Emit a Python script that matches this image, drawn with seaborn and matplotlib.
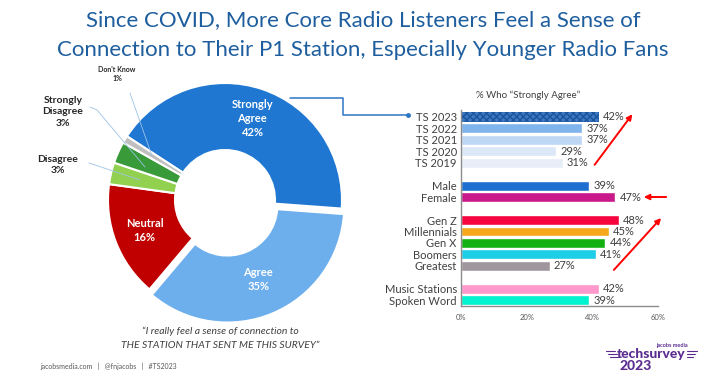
import numpy as np
import pandas as pd
import matplotlib
matplotlib.use("Agg")
import matplotlib.pyplot as plt
from matplotlib.lines import Line2D
import seaborn as sns

# donut data
pie_labels = ["Strongly Agree", "Agree", "Neutral", "Disagree", "Strongly Disagree", "Don't Know"]
pie_values = [42, 35, 16, 3, 3, 1]
pie_colors = ["#1F77D2", "#6DAEEC", "#C00000", "#92D050", "#399A3A", "#BFBFBF"]

# bar data (% who strongly agree)
trend_labels = ["TS 2023", "TS 2022", "TS 2021", "TS 2020", "TS 2019"]
trend_values = [42, 37, 37, 29, 31]
gender_labels = ["Male", "Female"]
gender_values = [39, 47]
gen_labels = ["Gen Z", "Millennials", "Gen X", "Boomers", "Greatest"]
gen_values = [48, 45, 44, 41, 27]
format_labels = ["Music Stations", "Spoken Word"]
format_values = [42, 39]

bar_colors = {
    "TS 2023": "#3C78C6", "TS 2022": "#80B4EC", "TS 2021": "#BDD7F5",
    "TS 2020": "#DCE8F8", "TS 2019": "#E8EEF8",
    "Male": "#1F6FD0", "Female": "#C8188A",
    "Gen Z": "#F7053F", "Millennials": "#F5A81C", "Gen X": "#12B012",
    "Boomers": "#1ECDE6", "Greatest": "#A0969E",
    "Music Stations": "#FF99CC", "Spoken Word": "#00F2CE",
}

sns.set_style("white")
plt.rcParams["font.family"] = ["Lato", "DejaVu Sans"]

W, H = 726, 376
fig = plt.figure(figsize=(W / 100, H / 100), dpi=100)


def fx(x):
    return x / W


def fy(y):
    return 1 - y / H


# ---- donut ----
ax_pie = fig.add_axes([fx(40), fy(330), 315 / W, 265 / H])
wedges, _ = ax_pie.pie(pie_values, colors=pie_colors, startangle=147, counterclock=False,
                       radius=1.17, explode=[0, 0.06, 0, 0, 0, 0],
                       wedgeprops=dict(width=0.67, edgecolor="white", linewidth=1.5))
ax_pie.set_xlim(-1.85, 1.3)
ax_pie.set_ylim(-1.3, 1.35)
ax_pie.set_aspect("equal")
ax_pie.axis("off")

inner_text = {"Strongly Agree": "Strongly\nAgree\n42%", "Agree": "Agree\n35%", "Neutral": "Neutral\n16%"}
for w, lab in zip(wedges, pie_labels):
    if lab in inner_text:
        ang = np.deg2rad((w.theta1 + w.theta2) / 2)
        ax_pie.text(0.86 * np.cos(ang), 0.86 * np.sin(ang), inner_text[lab], ha="center", va="center",
                    color="white", fontsize=8, fontweight="bold", linespacing=1.35)

lead = "#9DC3E6"
ax_pie.plot([-0.95, -0.73], [1.07, 0.44], color=lead, lw=0.6)
ax_pie.plot([-1.35, -1.28, -0.80], [0.93, 0.90, 0.33], color=lead, lw=0.6)
ax_pie.plot([-1.36, -0.85], [0.37, 0.20], color=lead, lw=0.6)
ax_pie.text(-1.08, 1.26, "Don't Know\n1%", ha="center", va="center", fontsize=5,
            fontweight="bold", color="#262626", linespacing=1.4)
ax_pie.text(-1.62, 0.88, "Strongly\nDisagree\n3%", ha="center", va="center", fontsize=7.5,
            fontweight="bold", color="#262626", linespacing=1.3)
ax_pie.text(-1.67, 0.35, "Disagree\n3%", ha="center", va="center", fontsize=7.5,
            fontweight="bold", color="#262626", linespacing=1.4)

# ---- bars ----
groups = [(trend_labels, trend_values), (gender_labels, gender_values),
          (gen_labels, gen_values), (format_labels, format_values)]
order, rows = [], []
for gi, (labs, vals) in enumerate(groups):
    if gi > 0:
        order.append(" " * gi)
    for l, v in zip(labs, vals):
        order.append(l)
        rows.append({"label": l, "value": v})
df = pd.DataFrame(rows)

ax = fig.add_axes([fx(461), fy(306), (658 - 461) / W, (306 - 110) / H])
sns.barplot(data=df, x="value", y="label", hue="label", order=order, palette=bar_colors,
            orient="h", width=0.86, saturation=1, legend=False, ax=ax)
for c in ax.containers:
    ax.bar_label(c, fmt="%d%%", padding=3, fontsize=8, color="#404040")
for p in ax.patches:
    if abs(p.get_width() - 42) < 0.01 and p.get_y() < 0:
        p.set_hatch("xxxxx")
        p.set_edgecolor("#1D5499")
        p.set_linewidth(0)

ax.set_xlim(0, 60)
ax.set_ylim(len(order) - 0.5, -0.6)
ax.set_xticks([0, 20, 40, 60])
ax.set_xticklabels(["0%", "20%", "40%", "60%"], fontsize=5.5, color="#595959")
ax.tick_params(axis="y", labelsize=8, labelcolor="#404040", length=0, pad=3)
ax.tick_params(axis="x", length=0, pad=6)
ax.set_xlabel("")
ax.set_ylabel("")
sns.despine(ax=ax)
for s in ["left", "bottom"]:
    ax.spines[s].set_color("#8C8C8C")
    ax.spines[s].set_linewidth(1)

fig.text(fx(528), fy(95), "% Who \u201cStrongly Agree\u201d", ha="center", va="center",
         fontsize=7, color="#404040")

# connector from donut to TS 2023
conn = Line2D([fx(290), fx(343), fx(343), fx(408)], [fy(98), fy(98), fy(115), fy(115)],
              transform=fig.transFigure, color="#2E75C6", lw=1.1)
fig.add_artist(conn)
fig.add_artist(Line2D([fx(408)], [fy(115)], transform=fig.transFigure, marker="o",
                      markersize=2.5, color="#2E75C6"))

# red arrows
arrow = dict(arrowstyle="-|>", color="#FF0000", lw=1.4, mutation_scale=8)
fig.add_artist(matplotlib.patches.FancyArrowPatch((fx(593), fy(167)), (fx(634), fy(112)),
                                                  transform=fig.transFigure, **arrow))
fig.add_artist(matplotlib.patches.FancyArrowPatch((fx(669), fy(197)), (fx(641), fy(197)),
                                                  transform=fig.transFigure, **arrow))
fig.add_artist(matplotlib.patches.FancyArrowPatch((fx(612), fy(272)), (fx(663), fy(216)),
                                                  transform=fig.transFigure, **arrow))

# titles and notes
title_col = "#1E5E9E"
fig.text(0.5, fy(20), "Since COVID, More Core Radio Listeners Feel a Sense of", ha="center",
         va="center", fontsize=16, color=title_col)
fig.text(0.5, fy(50), "Connection to Their P1 Station, Especially Younger Radio Fans", ha="center",
         va="center", fontsize=16, color=title_col)

fig.text(fx(220), fy(331), "\u201cI really feel a sense of connection to", ha="center", va="center",
         fontsize=7.5, style="italic", color="#404040")
fig.text(fx(220), fy(346), "THE STATION THAT SENT ME THIS SURVEY\u201d", ha="center", va="center",
         fontsize=7.5, style="italic", color="#404040")
fig.text(fx(40), fy(366), "jacobsmedia.com   |   @fnjacobs   |   #TS2023", ha="left", va="center",
         fontsize=5, color="#595959")

purple = "#5B2D90"
fig.text(fx(672), fy(345), "jacobs media", ha="center", va="center", fontsize=4,
         color=purple, fontweight="bold")
fig.text(fx(651), fy(354), "techsurvey", ha="center", va="center", fontsize=10,
         color=purple, fontweight="black")
fig.text(fx(636), fy(366), "2023", ha="center", va="center", fontsize=10,
         color=purple, fontweight="black")
for yy, x0 in [(351, 606), (354, 608), (357, 610)]:
    fig.add_artist(Line2D([fx(x0), fx(x0 + 9)], [fy(yy), fy(yy)], transform=fig.transFigure,
                          color=purple, lw=0.8))
    fig.add_artist(Line2D([fx(687), fx(687 + 10 - (x0 - 606))], [fy(yy), fy(yy)],
                          transform=fig.transFigure, color=purple, lw=0.8))

fig.savefig("out.png", dpi=100, facecolor="white")
